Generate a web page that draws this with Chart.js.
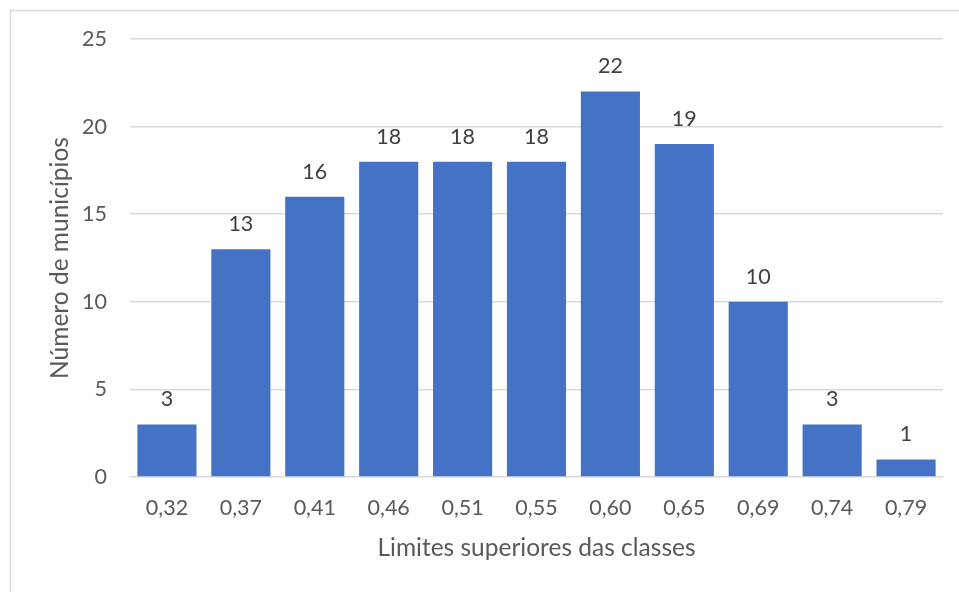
<!DOCTYPE html>
<html><head><meta charset="utf-8">
<script src="https://cdn.jsdelivr.net/npm/chart.js@4/dist/chart.umd.min.js"></script>
<style>html,body{margin:0;padding:0;background:#fff;}#wrap{width:959px;height:592px;position:relative;}</style>
</head><body><div id="wrap"><canvas id="c" width="959" height="592"></canvas></div>
<script>
const categories = ["0,32","0,37","0,41","0,46","0,51","0,55","0,60","0,65","0,69","0,74","0,79"];
const counts = [3,13,16,18,18,18,22,19,10,3,1];
const yTicks = [0,5,10,15,20,25];

const FONT = "Lato, 'Open Sans', sans-serif";

const borderPlugin = {
  id:'border',
  beforeDraw(chart){
    const c = chart.ctx;
    c.save();
    c.fillStyle='#fff'; c.fillRect(0,0,chart.width,chart.height);
    c.strokeStyle='#D9D9D9'; c.lineWidth=1.5;
    c.strokeRect(10.5,10.5,chart.width+20,chart.height+20);
    c.restore();
  }
};
const labelPlugin = {
  id:'vals',
  afterDatasetsDraw(chart){
    const c = chart.ctx;
    const meta = chart.getDatasetMeta(0);
    c.save();
    c.font = "21.5px " + FONT;
    c.fillStyle = '#404040';
    c.textAlign='center'; c.textBaseline='middle';
    meta.data.forEach((bar,i)=>{
      c.fillText(String(counts[i]), bar.x, bar.y - 25);
    });
    c.restore();
  }
};

new Chart(document.getElementById('c'),{
  type:'bar',
  data:{labels:categories,datasets:[{data:counts,backgroundColor:'#4472C4',borderWidth:0,barPercentage:0.8,categoryPercentage:1.0}]},
  options:{
    responsive:false,animation:false,
    layout:{padding:{left:10,right:16,top:39,bottom:0}},
    plugins:{legend:{display:false},tooltip:{enabled:false}},
    scales:{
      x:{
        grid:{display:false,drawTicks:false},
        border:{display:false},
        ticks:{color:'#595959',font:{family:FONT,size:21.5},padding:18,maxRotation:0},
        title:{display:true,text:'Limites superiores das classes',color:'#595959',font:{family:FONT,size:24.5},padding:{top:0,bottom:29}},
        afterFit(s){s.height=115;}
      },
      y:{
        min:0,max:25,
        afterBuildTicks(s){s.ticks=yTicks.map(v=>({value:v}));},
        grid:{color:'#D9D9D9',lineWidth:1.5,drawTicks:false},
        border:{display:false},
        ticks:{color:'#595959',font:{family:FONT,size:21.5},padding:23},
        title:{display:true,text:'Número de municípios',color:'#595959',font:{family:FONT,size:24.5},padding:{top:35,bottom:0}},
        afterFit(s){s.width=120;}
      }
    }
  },
  plugins:[borderPlugin,labelPlugin]
});
</script></body></html>
